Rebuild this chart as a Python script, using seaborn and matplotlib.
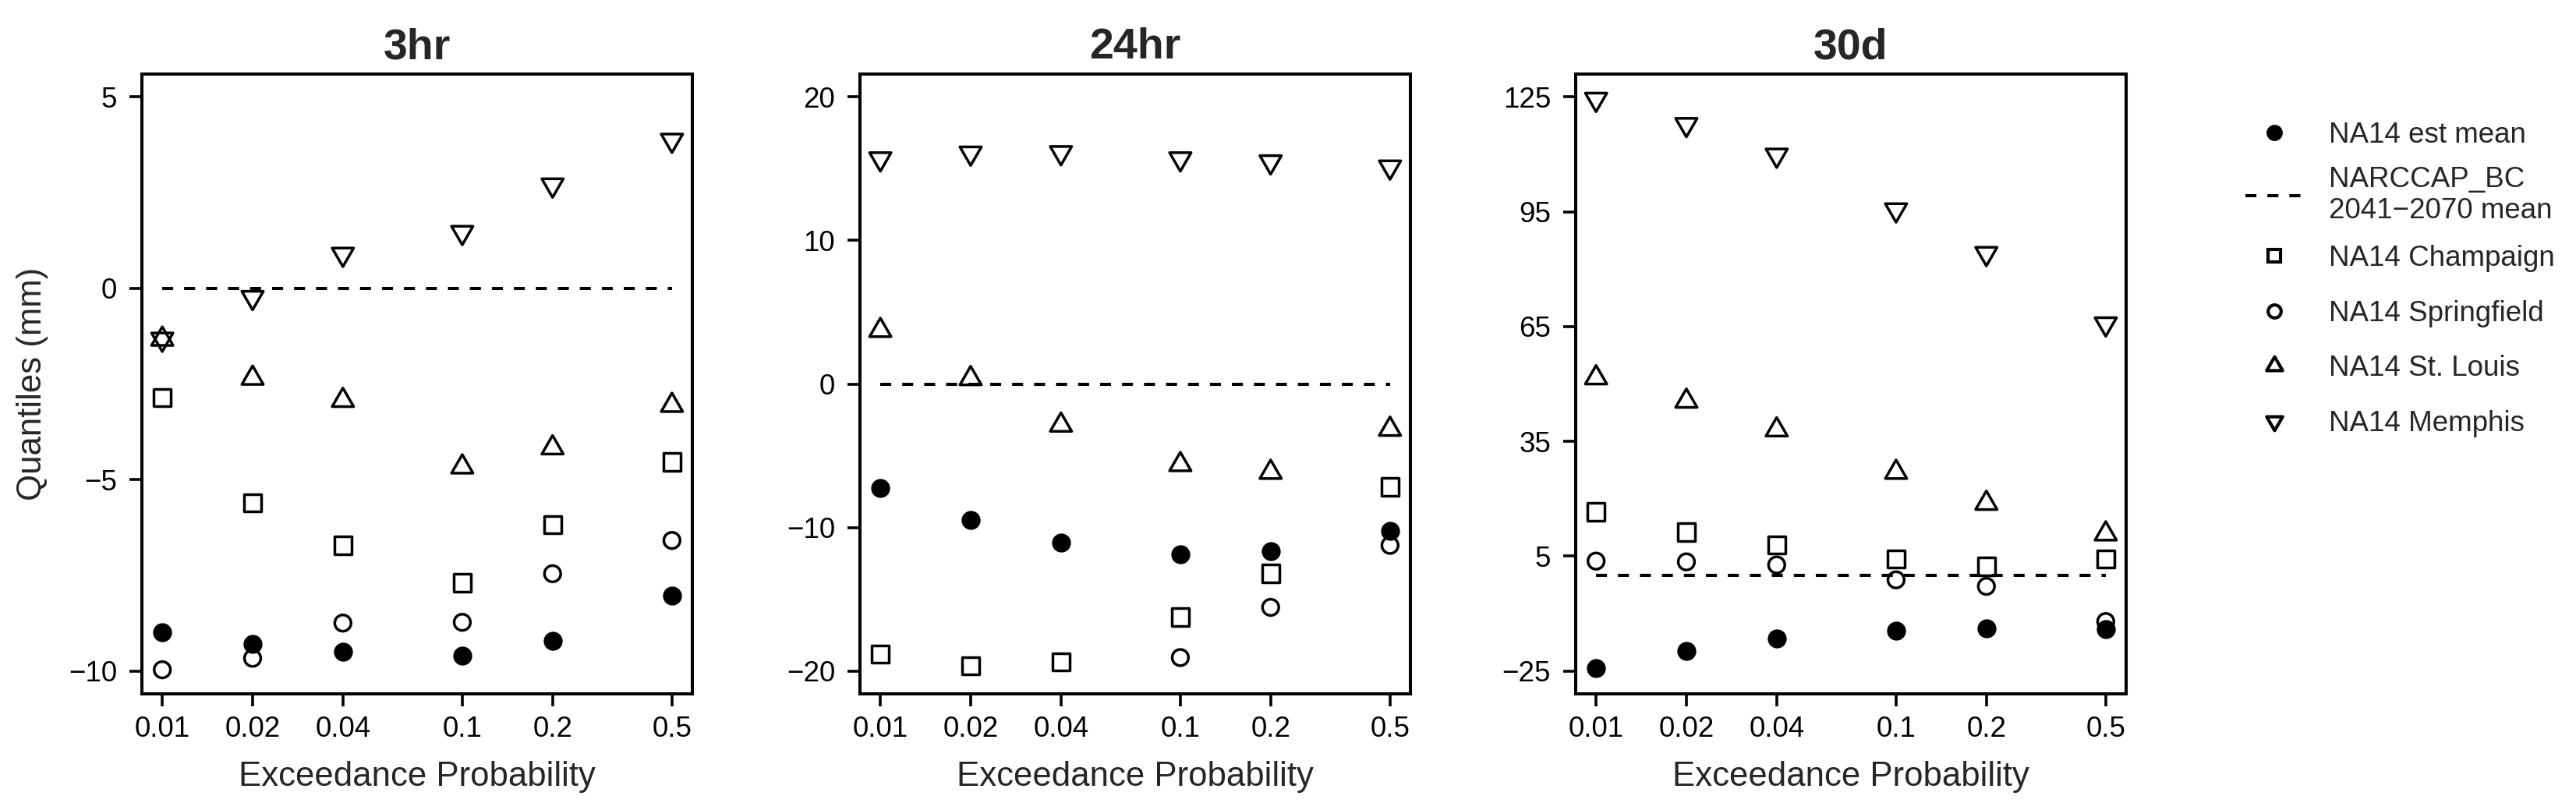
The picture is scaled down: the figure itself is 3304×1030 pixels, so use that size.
#!/usr/bin/env python3

'''
Diferencias de cuantiles vs probabilidad de excedencia (3hr, 24hr, 30d).
'''

import numpy as np
import matplotlib
matplotlib.use('Agg')
import matplotlib.pyplot as plt
from matplotlib.path import Path
from matplotlib.lines import Line2D
from matplotlib.legend_handler import HandlerLine2D
import seaborn as sns

probs = [0.01, 0.02, 0.04, 0.1, 0.2, 0.5]
prob_labels = ['0.01', '0.02', '0.04', '0.1', '0.2', '0.5']
durations = ['3hr', '24hr', '30d']
series_names = ['NA14 est mean', 'NA14 Champaign', 'NA14 Springfield',
                'NA14 St. Louis', 'NA14 Memphis']
narccap_label = 'NARCCAP_BC\n2041\u22122070 mean'

# NARCCAP_BC 2041-2070 mean (reference line)
narccap_mean = [0, 0, 0, 0, 0, 0]

# 3hr
mean_3hr = [-9.00, -9.29, -9.50, -9.60, -9.21, -8.03]
champaign_3hr = [-2.86, -5.61, -6.72, -7.70, -6.18, -4.54]
springfield_3hr = [-9.97, -9.67, -8.75, -8.73, -7.46, -6.59]
stlouis_3hr = [-1.33, -2.35, -2.93, -4.67, -4.17, -3.06]
memphis_3hr = [-1.33, -0.24, 0.89, 1.46, 2.70, 3.87]

# 24hr (Springfield 0.01-0.04 fall below the plotted range)
mean_24hr = [-7.25, -9.50, -11.04, -11.86, -11.68, -10.25]
champaign_24hr = [-18.82, -19.64, -19.36, -16.25, -13.21, -7.18]
springfield_24hr = [np.nan, np.nan, np.nan, -19.07, -15.57, -11.25]
stlouis_24hr = [3.73, 0.37, -2.87, -5.62, -6.16, -3.16]
memphis_24hr = [15.69, 16.09, 16.12, 15.69, 15.48, 15.12]

# 30d
mean_30d = [-24.2, -19.8, -16.6, -14.5, -13.9, -14.1]
champaign_30d = [16.6, 11.3, 7.9, 4.3, 2.3, 4.2]
springfield_30d = [3.7, 3.5, 2.7, -1.2, -2.9, -12.1]
stlouis_30d = [51.6, 45.5, 38.0, 26.9, 18.8, 10.8]
memphis_30d = [124.4, 117.8, 109.8, 95.5, 84.1, 65.7]

ylims = [(-10, 5), (-20, 20), (-25, 125)]
yticks = [[-10, -5, 0, 5], [-20, -10, 0, 10, 20], [-25, 5, 35, 65, 95, 125]]

panel_data = {
    '3hr': [mean_3hr, champaign_3hr, springfield_3hr, stlouis_3hr, memphis_3hr],
    '24hr': [mean_24hr, champaign_24hr, springfield_24hr, stlouis_24hr, memphis_24hr],
    '30d': [mean_30d, champaign_30d, springfield_30d, stlouis_30d, memphis_30d],
}

# triangulos equilateros centrados (como pch 2 / pch 6 de R)
codes = [Path.MOVETO, Path.LINETO, Path.LINETO, Path.CLOSEPOLY]
tri_up = Path([(0, 1), (0.866, -0.5), (-0.866, -0.5), (0, 0)], codes)
tri_down = Path([(0, -1), (0.866, 0.5), (-0.866, 0.5), (0, 0)], codes)

# marcador, area (pt^2), relleno
marker_styles = [('o', 225, 'black'), ('s', 260, 'none'), ('o', 225, 'none'),
                 (tri_up, 525, 'none'), (tri_down, 525, 'none')]
legend_sizes = [12, 12, 12, 17, 17]


class HandlerCentered(HandlerLine2D):
    '''Baja el simbolo de la leyenda al centro del texto.'''

    def create_artists(self, legend, orig_handle, xdescent, ydescent,
                       width, height, fontsize, trans):
        artists = super().create_artists(legend, orig_handle, xdescent, ydescent,
                                         width, height, fontsize, trans)
        for art in artists:
            art.set_ydata(np.asarray(art.get_ydata()) - 0.187 * fontsize)
        return artists


sns.set_style('ticks')
plt.rcParams['font.family'] = ['Liberation Sans', 'DejaVu Sans']
plt.rcParams['axes.unicode_minus'] = True

W, H = 3305, 1030
fig = plt.figure(figsize=(W / 100, H / 100), dpi=100)
axes = [fig.add_axes([left / W, 140 / H, 706 / W, 795 / H])
        for left in (182, 1103, 2021)]

log_pad = 0.04 * (np.log10(probs[-1]) - np.log10(probs[0]))

for ax, dur, lim, ticks in zip(axes, durations, ylims, yticks):
    ax.plot(probs, narccap_mean, color='black', linewidth=2.9,
            linestyle=(0, (3.5, 3.5)), zorder=2)
    for vals, (marker, size, face) in zip(panel_data[dur], marker_styles):
        sns.scatterplot(x=probs, y=vals, ax=ax, marker=marker, s=size,
                        color='black', facecolor=face, edgecolor='black',
                        linewidth=2.5, zorder=3, legend=False)

    ax.set_xscale('log')
    ax.set_xlim(10 ** (np.log10(probs[0]) - log_pad),
                10 ** (np.log10(probs[-1]) + log_pad))
    span = lim[1] - lim[0]
    ax.set_ylim(lim[0] - 0.04 * span, lim[1] + 0.04 * span)
    ax.set_xticks(probs)
    ax.set_xticklabels(prob_labels)
    ax.minorticks_off()
    ax.set_yticks(ticks)

    for spine in ax.spines.values():
        spine.set_visible(True)
        spine.set_linewidth(2.9)
        spine.set_color('black')
    ax.tick_params(axis='both', length=11.5, width=2.6, color='black',
                   labelsize=26.5, labelcolor='black')
    ax.tick_params(axis='x', pad=8.6)
    ax.tick_params(axis='y', pad=11.5)

    ax.set_title(dur, fontsize=40, fontweight='bold', pad=14.4)
    ax.set_xlabel('Exceedance Probability', fontsize=31.5)
    ax.xaxis.set_label_coords(0.5, -86 / 795)
    ax.set_ylabel('')

axes[0].set_ylabel('Quantiles (mm)', fontsize=31.5)
axes[0].yaxis.set_label_coords(-120 / 706, 0.5)

# leyenda
handles = []
for (marker, _, face), msize in zip(marker_styles, legend_sizes):
    handles.append(Line2D([], [], linestyle='none', marker=marker,
                          markersize=msize, markerfacecolor=face,
                          markeredgecolor='black', markeredgewidth=3))
dash_handle = Line2D([], [], color='black', linewidth=2.9,
                     linestyle=(0, (3.5, 3.5)))
handles.insert(1, dash_handle)
labels = [series_names[0], narccap_label] + series_names[1:]

leg = fig.legend(handles, labels, loc='upper left',
                 bbox_to_anchor=(2880 / W, 1 - 143 / H), frameon=False,
                 fontsize=26.5, borderpad=0, borderaxespad=0,
                 handlelength=2.0, handleheight=2.0, handletextpad=0.92,
                 labelspacing=0.37, numpoints=1,
                 handler_map={Line2D: HandlerCentered()})
leg.get_texts()[1].set_linespacing(1.15)

fig.savefig('out.png', dpi=100)
